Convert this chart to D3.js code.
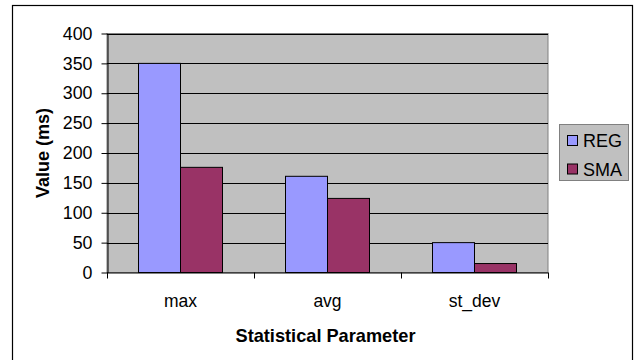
<!DOCTYPE html>
<html><head><meta charset="utf-8">
<script src="https://cdn.jsdelivr.net/npm/d3@7"></script>
<style>body{margin:0;background:#fff}svg{display:block}text{font-family:"Liberation Sans",Arial,sans-serif}</style>
</head><body><svg id="c" width="641" height="360"></svg>
<script>
const categories = ["max", "avg", "st_dev"];
const seriesNames = ["REG", "SMA"];
const regValues = [350, 161, 50];
const smaValues = [176, 124, 15];
const yTicks = [0, 50, 100, 150, 200, 250, 300, 350, 400];
const colors = ["#9999FF", "#993366"];

const svg = d3.select("#c");
svg.append("rect").attr("x", 12.5).attr("y", 5.5).attr("width", 620).attr("height", 360)
  .attr("fill", "#fff").attr("stroke", "#000").attr("stroke-width", 1.2);

const L = 107, R = 548, T = 33.5, B = 272.5;
const x = d3.scaleBand().domain(categories).range([L, R]).paddingInner(0).paddingOuter(0);
const y = d3.scaleLinear().domain([0, 400]).range([B, T]);

svg.append("rect").attr("x", L).attr("y", T).attr("width", R - L).attr("height", B - T)
  .attr("fill", "#C0C0C0").attr("stroke", "#808080");

svg.append("g").selectAll("line").data(yTicks.filter(d => d > 0)).join("line")
  .attr("x1", L).attr("x2", R).attr("y1", d => Math.round(y(d)) + 0.5).attr("y2", d => Math.round(y(d)) + 0.5)
  .attr("stroke", "#000");

const bw = x.bandwidth() / 3.5;
const data = categories.map((c, i) => ({c, vals: [regValues[i], smaValues[i]]}));
const g = svg.append("g");
data.forEach(d => {
  d.vals.forEach((v, j) => {
    const x0 = x(d.c) + x.bandwidth() * 0.75 / 3.5 + j * bw;
    g.append("rect").attr("x", x0).attr("y", y(v)).attr("width", bw).attr("height", y(0) - y(v))
      .attr("fill", colors[j]).attr("stroke", "#000").attr("stroke-width", 1);
  });
});

const yAxis = d3.axisLeft(y).tickValues(yTicks).tickSize(6).tickPadding(9).tickSizeOuter(0);
const ya = svg.append("g").attr("transform", `translate(${L + 0.5},0)`).call(yAxis);
ya.select(".domain").attr("stroke", "#000");
ya.selectAll("line").attr("stroke", "#000");
ya.selectAll("text").attr("font-size", 17.8).attr("fill", "#000");

const xa = svg.append("g").attr("transform", `translate(0,${B})`);
xa.append("line").attr("x1", L).attr("x2", R).attr("y1", 0.5).attr("y2", 0.5).attr("stroke", "#000");
const bounds = categories.map(c => x(c)).concat([R]);
xa.selectAll("line.t").data(bounds).join("line").attr("class", "t")
  .attr("x1", d => Math.round(d) + 0.5).attr("x2", d => Math.round(d) + 0.5).attr("y1", 0).attr("y2", 6).attr("stroke", "#000");
xa.selectAll("text").data(categories).join("text")
  .attr("x", d => x(d) + x.bandwidth() / 2).attr("y", 34.5).attr("text-anchor", "middle")
  .attr("font-size", 17.5).text(d => d);

svg.append("text").attr("x", (L + R) / 2 - 2).attr("y", 342).attr("text-anchor", "middle")
  .attr("font-size", 18.2).attr("font-weight", "bold").text("Statistical Parameter");
svg.append("text").attr("transform", `translate(49,${(T + B) / 2}) rotate(-90)`).attr("text-anchor", "middle")
  .attr("font-size", 18).attr("font-weight", "bold").text("Value (ms)");

const lg = svg.append("g");
lg.append("rect").attr("x", 559.5).attr("y", 124.5).attr("width", 69).attr("height", 56)
  .attr("fill", "#C0C0C0").attr("stroke", "#808080");
seriesNames.forEach((s, i) => {
  lg.append("rect").attr("x", 567.5).attr("y", 135.5 + i * 28.5).attr("width", 10).attr("height", 10)
    .attr("fill", colors[i]).attr("stroke", "#000");
  lg.append("text").attr("x", 583).attr("y", 147 + i * 28.5).attr("font-size", 18).text(s);
});
</script></body></html>
